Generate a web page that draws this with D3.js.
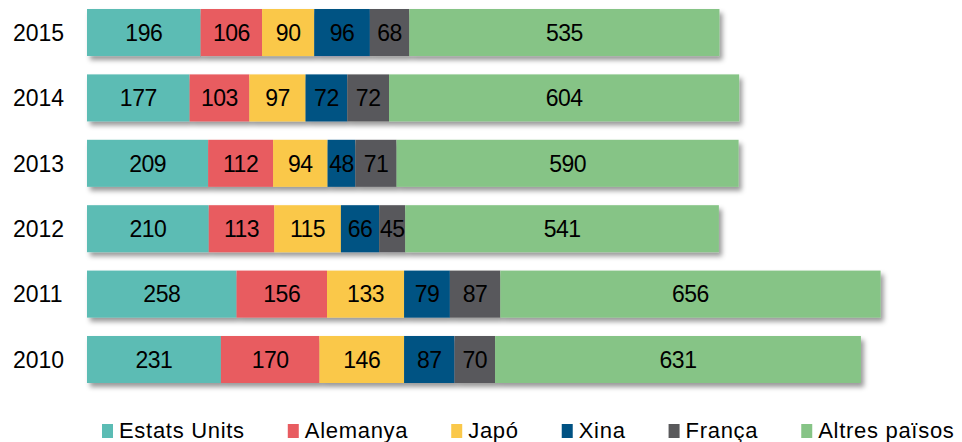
<!DOCTYPE html>
<html>
<head>
<meta charset="utf-8">
<script src="https://cdn.jsdelivr.net/npm/d3@7"></script>
<style>
  body { margin: 0; background: #fff; }
  svg { font-family: "Liberation Sans", Arial, sans-serif; }
</style>
</head>
<body>
<div id="chart"></div>
<script>
// dades
const years = ["2015", "2014", "2013", "2012", "2011", "2010"];
const seriesNames = ["Estats Units", "Alemanya", "Japó", "Xina", "França", "Altres països"];
const seriesColors = ["#5bbcb4", "#e85c61", "#fac84a", "#005283", "#59595b", "#86c486"];
const estatsUnits = [196, 177, 209, 210, 258, 231];
const alemanya = [106, 103, 112, 113, 156, 170];
const japo = [90, 97, 94, 115, 133, 146];
const xina = [96, 72, 48, 66, 79, 87];
const franca = [68, 72, 71, 45, 87, 70];
const altres = [535, 604, 590, 541, 656, 631];

const seriesValues = [estatsUnits, alemanya, japo, xina, franca, altres];

const width = 962, height = 442;

// taula per a d3.stack
const table = years.map((y, i) => {
    let row = { year: y };
    seriesNames.forEach((s, j) => { row[s] = seriesValues[j][i]; });
    return row;
});

const stacked = d3.stack().keys(seriesNames)(table);
const maxTotal = d3.max(table, d => d3.sum(seriesNames, s => d[s]));

const x = d3.scaleLinear()
    .domain([0, maxTotal])
    .range([87, 87 + maxTotal * 0.5797]);

const y = d3.scaleBand()
    .domain(years)
    .range([9, 383])
    .paddingInner(0.281)
    .paddingOuter(0);

const color = d3.scaleOrdinal().domain(seriesNames).range(seriesColors);

const svg = d3.select("#chart")
    .append("svg")
    .attr("width", width)
    .attr("height", height);

const defs = svg.append("defs");
const filter = defs.append("filter")
    .attr("id", "shadow")
    .attr("x", "-5%").attr("y", "-20%")
    .attr("width", "115%").attr("height", "160%");
filter.append("feDropShadow")
    .attr("dx", 3)
    .attr("dy", 4)
    .attr("stdDeviation", 2.5)
    .attr("flood-color", "#000")
    .attr("flood-opacity", 0.4);

// barres, una fila per any amb ombra
const rows = svg.selectAll(".row")
    .data(years)
    .enter().append("g")
    .attr("class", "row")
    .attr("filter", "url(#shadow)");

rows.each(function(yr, i) {
    const g = d3.select(this);
    stacked.forEach(layer => {
        const d = layer[i];
        g.append("rect")
            .attr("x", x(d[0]))
            .attr("y", y(yr))
            .attr("width", x(d[1]) - x(d[0]))
            .attr("height", y.bandwidth())
            .attr("fill", color(layer.key));
    });
});

// etiquetes de valor
stacked.forEach(layer => {
    svg.append("g")
        .selectAll("text")
        .data(layer)
        .enter().append("text")
        .attr("x", d => (x(d[0]) + x(d[1])) / 2)
        .attr("y", d => y(d.data.year) + y.bandwidth() / 2)
        .attr("dy", "0.36em")
        .attr("text-anchor", "middle")
        .style("font-size", "23px")
        .style("letter-spacing", "-0.5px")
        .style("fill", "#000")
        .text(d => d[1] - d[0]);
});

// eix d'anys
svg.append("g")
    .selectAll("text")
    .data(years)
    .enter().append("text")
    .attr("x", 13)
    .attr("y", d => y(d) + y.bandwidth() / 2)
    .attr("dy", "0.36em")
    .style("font-size", "23px")
    .style("fill", "#000")
    .text(d => d);

// llegenda
const legend = svg.append("g").attr("class", "legend");
let lx = 102;
seriesNames.forEach(name => {
    const item = legend.append("g").attr("transform", `translate(${lx},0)`);
    item.append("rect")
        .attr("x", 0)
        .attr("y", 424)
        .attr("width", 11)
        .attr("height", 14)
        .attr("fill", color(name));
    const t = item.append("text")
        .attr("x", 17)
        .attr("y", 438)
        .style("font-size", "22px")
        .style("letter-spacing", "0.7px")
        .style("fill", "#000")
        .text(name);
    lx += 17 + t.node().getComputedTextLength() + 43;
});
</script>
</body>
</html>
